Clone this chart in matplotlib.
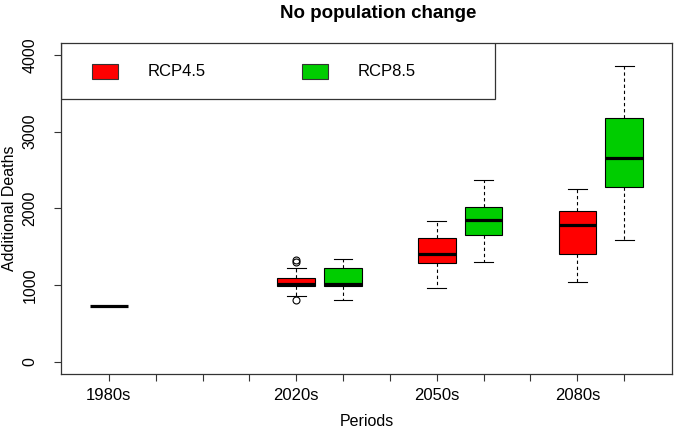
import matplotlib
matplotlib.use("Agg")
import matplotlib.pyplot as plt
from matplotlib.patches import Rectangle

plt.rcParams['font.family'] = ['Liberation Sans', 'DejaVu Sans']

# values
period_labels = ["1980s", "2020s", "2050s", "2080s"]
baseline_1980s = 730

rcp45_whislo = [860, 957, 1035]
rcp45_q1 = [983, 1287, 1400]
rcp45_med = [1017, 1408, 1786]
rcp45_q3 = [1095, 1609, 1965]
rcp45_whishi = [1226, 1834, 2256]
rcp45_fliers = [[1326, 1296, 800], [], []]

rcp85_whislo = [808, 1300, 1591]
rcp85_q1 = [983, 1652, 2278]
rcp85_med = [1017, 1843, 2660]
rcp85_q3 = [1222, 2013, 3177]
rcp85_whishi = [1339, 2373, 3855]
rcp85_fliers = [[], [], []]

series_names = ["RCP4.5", "RCP8.5"]
series_colors = ["#FF0000", "#00CD00"]


def make_stats(whislo, q1, med, q3, whishi, fliers):
    return [dict(whislo=a, q1=b, med=c, q3=d, whishi=e, fliers=f)
            for a, b, c, d, e, f in zip(whislo, q1, med, q3, whishi, fliers)]


fig = plt.figure(figsize=(6.75, 4.29), dpi=100)
ax = fig.add_axes([61 / 675, 1 - 374 / 429, 611 / 675, 331.3 / 429])

common = dict(widths=0.8, capwidths=0.4, patch_artist=True,
              whiskerprops=dict(color="black", linewidth=0.8, linestyle=(0, (3, 2.5))),
              capprops=dict(color="black", linewidth=0.8),
              medianprops=dict(color="black", linewidth=2.3, solid_capstyle="butt"),
              flierprops=dict(marker="o", markerfacecolor="none", markeredgecolor="black",
                              markersize=5, markeredgewidth=0.8))

# 1980s baseline: a single value, drawn as a collapsed box
base = [dict(whislo=baseline_1980s, q1=baseline_1980s, med=baseline_1980s,
             q3=baseline_1980s, whishi=baseline_1980s, fliers=[])]
ax.bxp(base, positions=[1], showcaps=False,
       boxprops=dict(facecolor="white", edgecolor="none"), **common)

group_pos = [5, 8, 11]
stats45 = make_stats(rcp45_whislo, rcp45_q1, rcp45_med, rcp45_q3, rcp45_whishi, rcp45_fliers)
stats85 = make_stats(rcp85_whislo, rcp85_q1, rcp85_med, rcp85_q3, rcp85_whishi, rcp85_fliers)
for stats, offset, col in zip([stats45, stats85], [0, 1], series_colors):
    ax.bxp(stats, positions=[p + offset for p in group_pos],
           boxprops=dict(facecolor=col, edgecolor="black", linewidth=0.8), **common)

ax.set_xlim(-0.02, 13.02)
ax.set_ylim(-160, 4160)
ax.set_xticks(range(1, 13))
xt = [""] * 12
xt[0] = period_labels[0]
for i, p in enumerate(group_pos):
    xt[p - 1] = period_labels[i + 1]
ax.set_xticklabels(xt, fontsize=12)
ax.set_yticks([0, 1000, 2000, 3000, 4000])
ax.set_yticklabels(["0", "1000", "2000", "3000", "4000"], rotation=90, va="center", fontsize=11.5)
ax.tick_params(axis="y", length=5, pad=12, color="#333333")
ax.tick_params(axis="x", length=5, pad=5, color="#333333")

for s in ax.spines.values():
    s.set_color("#333333")
    s.set_linewidth(0.9)

ax.set_ylabel("Additional Deaths", fontsize=11.5)
ax.yaxis.set_label_coords(-0.072, 0.5)
ax.set_xlabel("Periods", fontsize=11.5)
ax.xaxis.set_label_coords(0.5, -0.121)

fig.text(378 / 675, 1 - 13 / 429, "No population change", ha="center", va="center",
         fontsize=13.5, fontweight="bold")

# legend box drawn in axes fraction
ax.add_patch(Rectangle((0, 0.829), 0.710, 0.2, transform=ax.transAxes, fill=False,
                       edgecolor="#333333", linewidth=0.9, clip_on=True))
for name, col, sx, tx in zip(series_names, series_colors, [0.0502, 0.394], [0.142, 0.486]):
    ax.add_patch(Rectangle((sx, 0.891), 0.0426, 0.045, transform=ax.transAxes,
                           facecolor=col, edgecolor="#333333", linewidth=0.8))
    ax.text(tx, 0.912, name, transform=ax.transAxes, va="center", ha="left", fontsize=12)

fig.savefig("out.png", dpi=100)
